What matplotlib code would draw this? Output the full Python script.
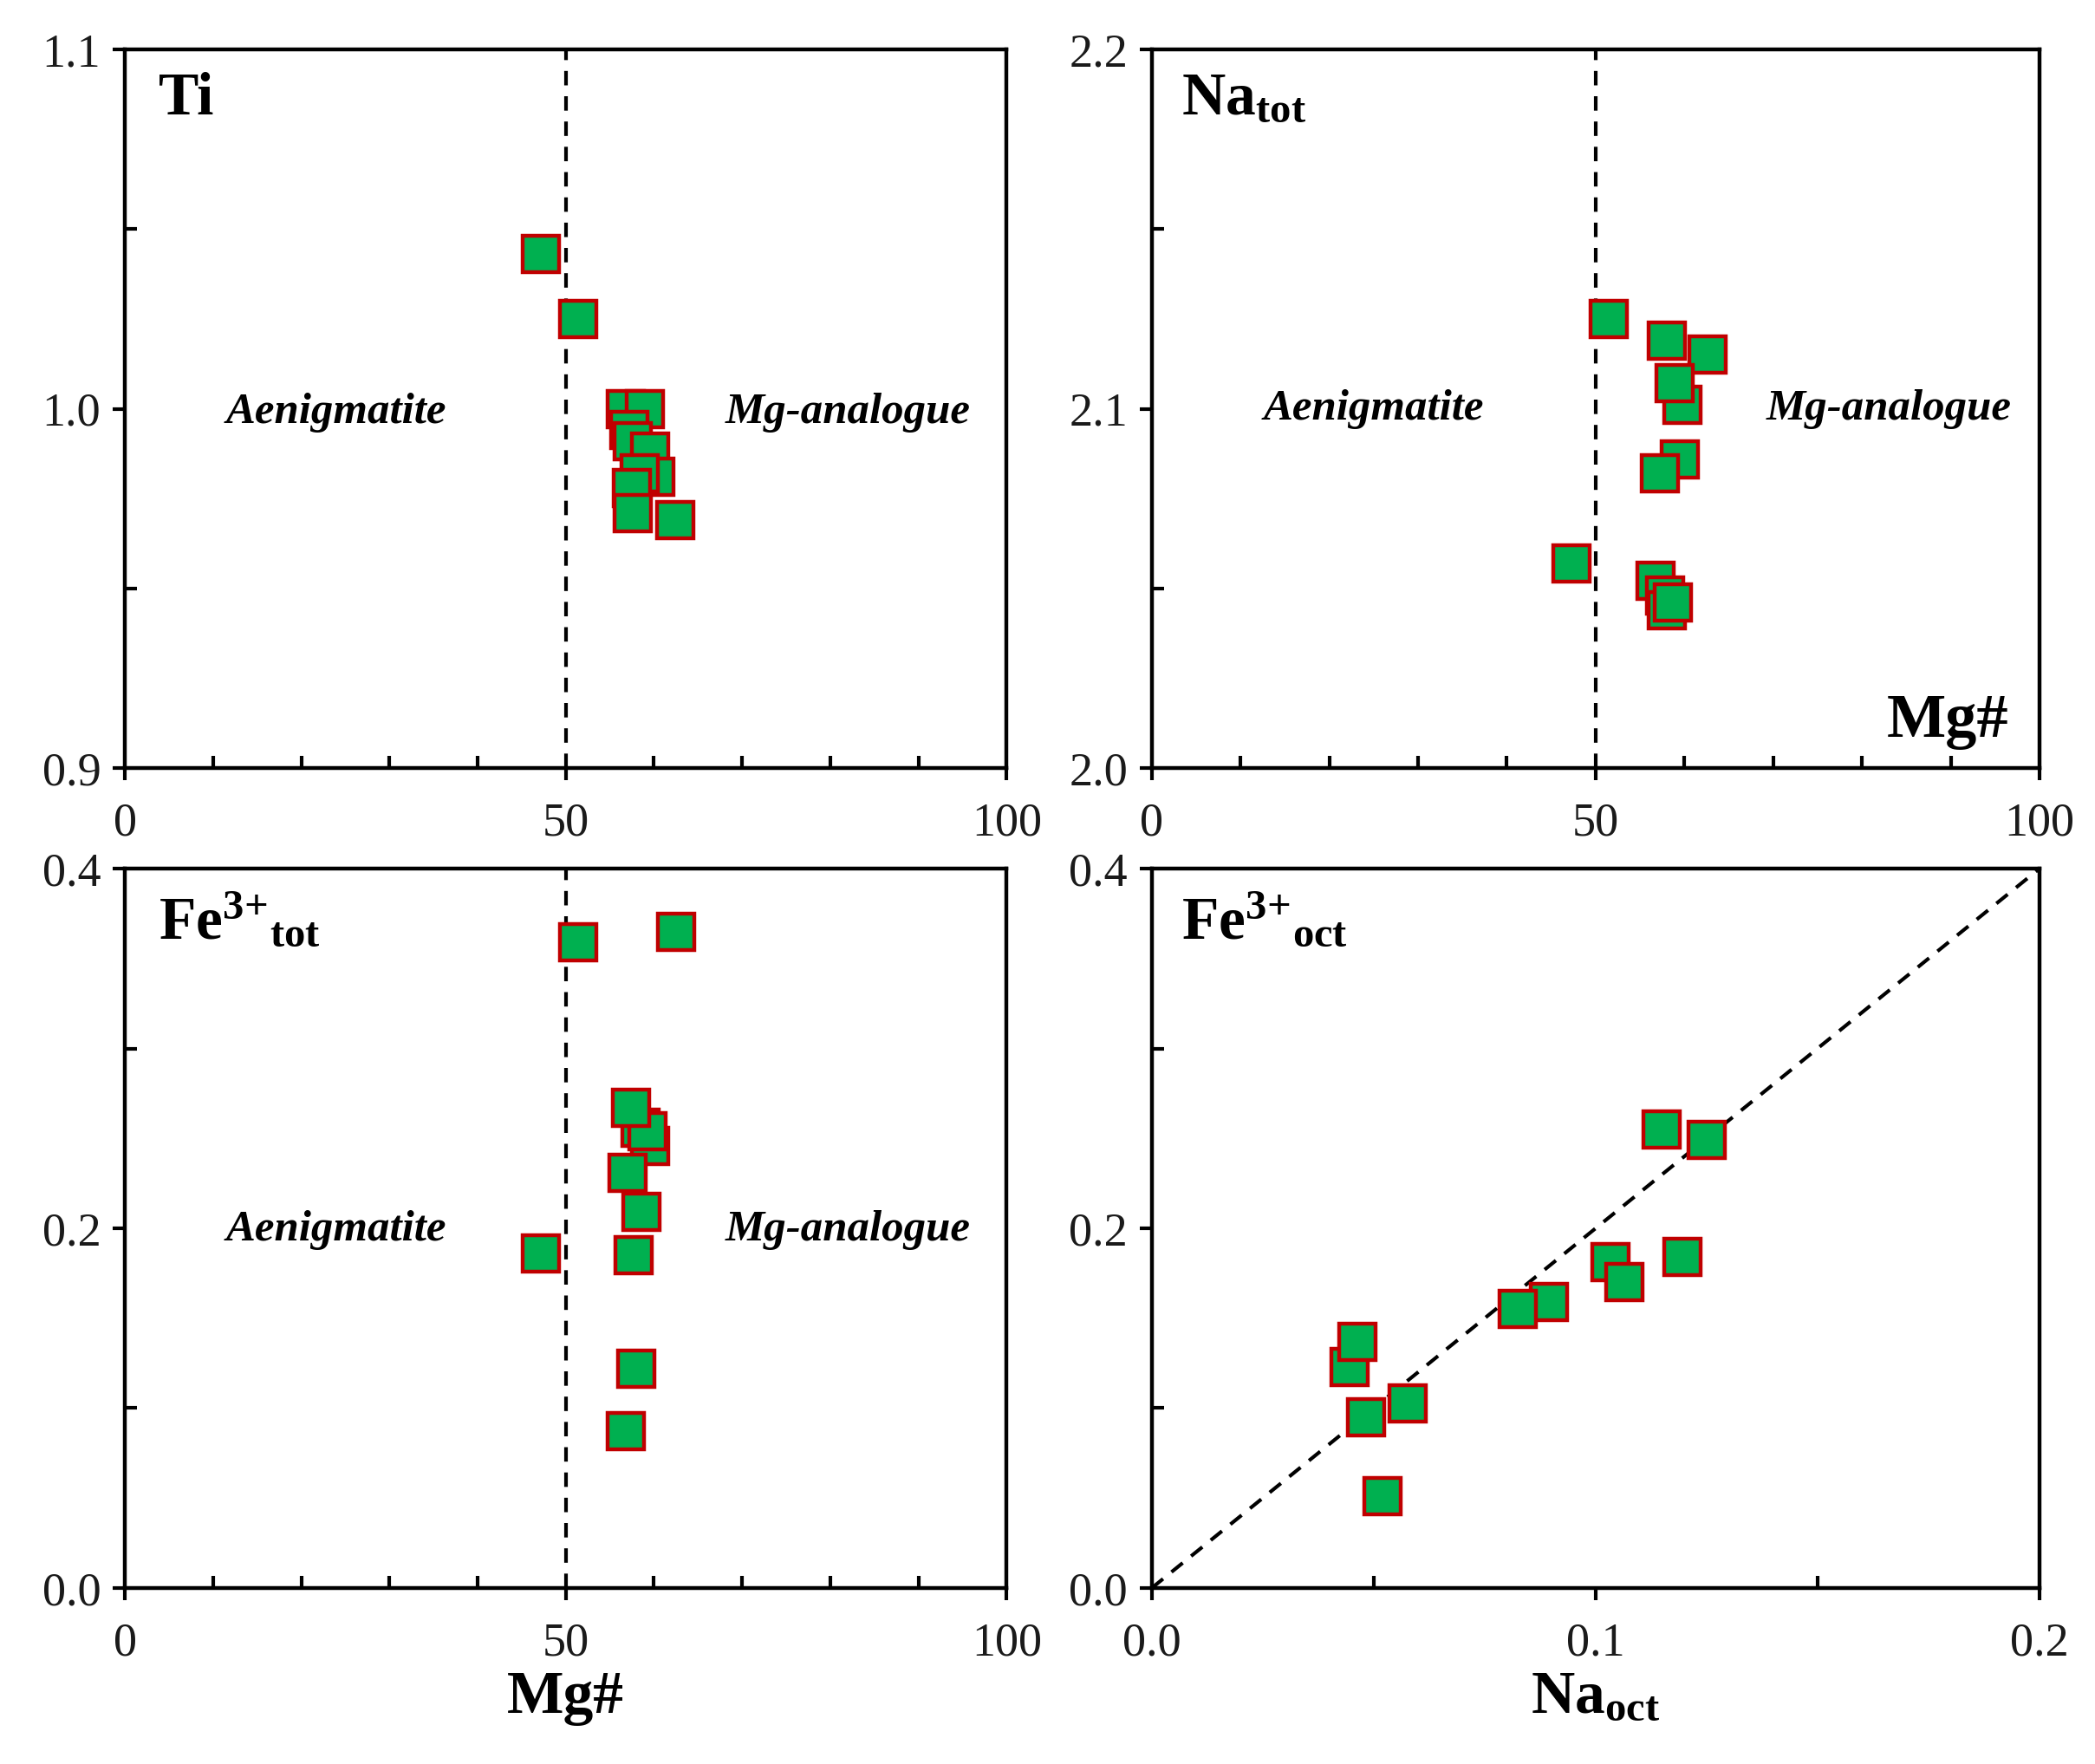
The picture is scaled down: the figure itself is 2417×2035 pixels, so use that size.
import numpy as np
import matplotlib
matplotlib.use("Agg")
import matplotlib.pyplot as plt
from matplotlib.ticker import MultipleLocator, FormatStrFormatter

plt.rcParams['font.family'] = ['Liberation Serif', 'DejaVu Serif']
plt.rcParams['mathtext.fontset'] = 'custom'
plt.rcParams['mathtext.rm'] = 'Liberation Serif'
plt.rcParams['mathtext.bf'] = 'Liberation Serif:bold'
plt.rcParams['mathtext.it'] = 'Liberation Serif:italic'

# Ti vs Mg#
ti_mg = [47.2, 51.4, 56.8, 59.0, 57.2, 57.6, 59.6, 60.2, 58.4, 57.5, 57.6, 62.4]
ti = [1.043, 1.025, 1.000, 1.000, 0.994, 0.991, 0.988, 0.981, 0.982, 0.978, 0.971, 0.969]

# Na_tot vs Mg#
na_mg = [51.5, 58.0, 62.6, 59.8, 58.9, 59.5, 57.2, 47.3, 56.7, 57.8, 58.0, 58.7]
na_tot = [2.125, 2.119, 2.115, 2.101, 2.107, 2.086, 2.082, 2.057, 2.052, 2.048, 2.044, 2.046]

# Fe3+_tot vs Mg#
fe_mg = [51.4, 62.5, 58.5, 59.6, 59.3, 57.4, 57.0, 58.6, 47.2, 57.7, 58.0, 56.8]
fe_tot = [0.359, 0.365, 0.256, 0.246, 0.254, 0.267, 0.231, 0.209, 0.186, 0.185, 0.122, 0.087]

# Fe3+_oct vs Na_oct
na_oct = [0.1148, 0.1251, 0.1033, 0.1065, 0.1195, 0.0894, 0.0825, 0.0445, 0.0463, 0.0483, 0.0576, 0.0519]
fe_oct = [0.255, 0.249, 0.181, 0.170, 0.184, 0.159, 0.155, 0.123, 0.137, 0.095, 0.1025, 0.051]

green = '#00B050'
red = '#C00000'

fig = plt.figure(figsize=(12.085, 10.175), dpi=200)
boxes = [[0.0596, 0.5646, 0.4209, 0.4074],
         [0.5498, 0.5646, 0.4237, 0.4074],
         [0.0596, 0.0998, 0.4209, 0.4078],
         [0.5498, 0.0998, 0.4237, 0.4078]]
axes = [fig.add_axes(b) for b in boxes]


def style(ax, xmaj, xmin, ymaj, ymin, xfmt, yfmt):
    ax.xaxis.set_major_locator(MultipleLocator(xmaj))
    ax.xaxis.set_minor_locator(MultipleLocator(xmin))
    ax.yaxis.set_major_locator(MultipleLocator(ymaj))
    ax.yaxis.set_minor_locator(MultipleLocator(ymin))
    ax.xaxis.set_major_formatter(FormatStrFormatter(xfmt))
    ax.yaxis.set_major_formatter(FormatStrFormatter(yfmt))
    ax.tick_params(which='major', direction='out', length=5, width=1.5,
                   labelsize=19.5, colors='black', labelcolor='#1a1a1a')
    ax.tick_params(axis='x', which='major', pad=9)
    ax.tick_params(axis='y', which='major', pad=5)
    ax.tick_params(which='minor', direction='in', length=5, width=1.5)
    for s in ax.spines.values():
        s.set_linewidth(1.6)


def points(ax, x, y):
    ax.plot(x, y, linestyle='none', marker='s', markersize=15,
            markerfacecolor=green, markeredgecolor=red, markeredgewidth=1.6,
            zorder=3, clip_on=False)


# panel 1
ax = axes[0]
ax.set_xlim(0, 100)
ax.set_ylim(0.9, 1.1)
style(ax, 50, 10, 0.1, 0.05, '%d', '%.1f')
ax.axvline(50, color='black', linestyle=(0, (4, 3)), linewidth=1.5)
points(ax, ti_mg, ti)
ax.text(0.038, 0.93, 'Ti', transform=ax.transAxes, fontsize=25, fontweight='bold', va='center')
ax.text(24, 0.999, 'Aenigmatite', fontsize=18.3, fontweight='bold', style='italic', ha='center', va='center')
ax.text(82, 0.999, 'Mg-analogue', fontsize=18.3, fontweight='bold', style='italic', ha='center', va='center')

# panel 2
ax = axes[1]
ax.set_xlim(0, 100)
ax.set_ylim(2.0, 2.2)
style(ax, 50, 10, 0.1, 0.05, '%d', '%.1f')
ax.axvline(50, color='black', linestyle=(0, (4, 3)), linewidth=1.5)
points(ax, na_mg, na_tot)
ax.text(0.033, 0.93, r'$\mathbf{Na_{tot}}$', transform=ax.transAxes, fontsize=25, va='center')
ax.text(25, 2.1, 'Aenigmatite', fontsize=18.3, fontweight='bold', style='italic', ha='center', va='center')
ax.text(83, 2.1, 'Mg-analogue', fontsize=18.3, fontweight='bold', style='italic', ha='center', va='center')
ax.text(0.965, 0.064, 'Mg#', transform=ax.transAxes, fontsize=26, fontweight='bold', ha='right', va='center')

# panel 3
ax = axes[2]
ax.set_xlim(0, 100)
ax.set_ylim(0.0, 0.4)
style(ax, 50, 10, 0.2, 0.1, '%d', '%.1f')
ax.axvline(50, color='black', linestyle=(0, (4, 3)), linewidth=1.5)
points(ax, fe_mg, fe_tot)
ax.text(0.038, 0.925, r'$\mathbf{Fe^{3{+}}{}_{tot}}$', transform=ax.transAxes, fontsize=25, va='center')
ax.text(24, 0.199, 'Aenigmatite', fontsize=18.3, fontweight='bold', style='italic', ha='center', va='center')
ax.text(82, 0.199, 'Mg-analogue', fontsize=18.3, fontweight='bold', style='italic', ha='center', va='center')
ax.set_xlabel('Mg#', fontsize=25, fontweight='bold', labelpad=2)

# panel 4
ax = axes[3]
ax.set_xlim(0, 0.2)
ax.set_ylim(0.0, 0.4)
style(ax, 0.1, 0.05, 0.2, 0.1, '%.1f', '%.1f')
ax.plot([0, 0.2], [0, 0.4], color='black', linestyle=(0, (4, 3)), linewidth=1.5)
points(ax, na_oct, fe_oct)
ax.text(0.033, 0.925, r'$\mathbf{Fe^{3{+}}{}_{oct}}$', transform=ax.transAxes, fontsize=25, va='center')
ax.set_xlabel(r'$\mathbf{Na_{oct}}$', fontsize=25, labelpad=2)

fig.savefig('out.png', dpi=200)
